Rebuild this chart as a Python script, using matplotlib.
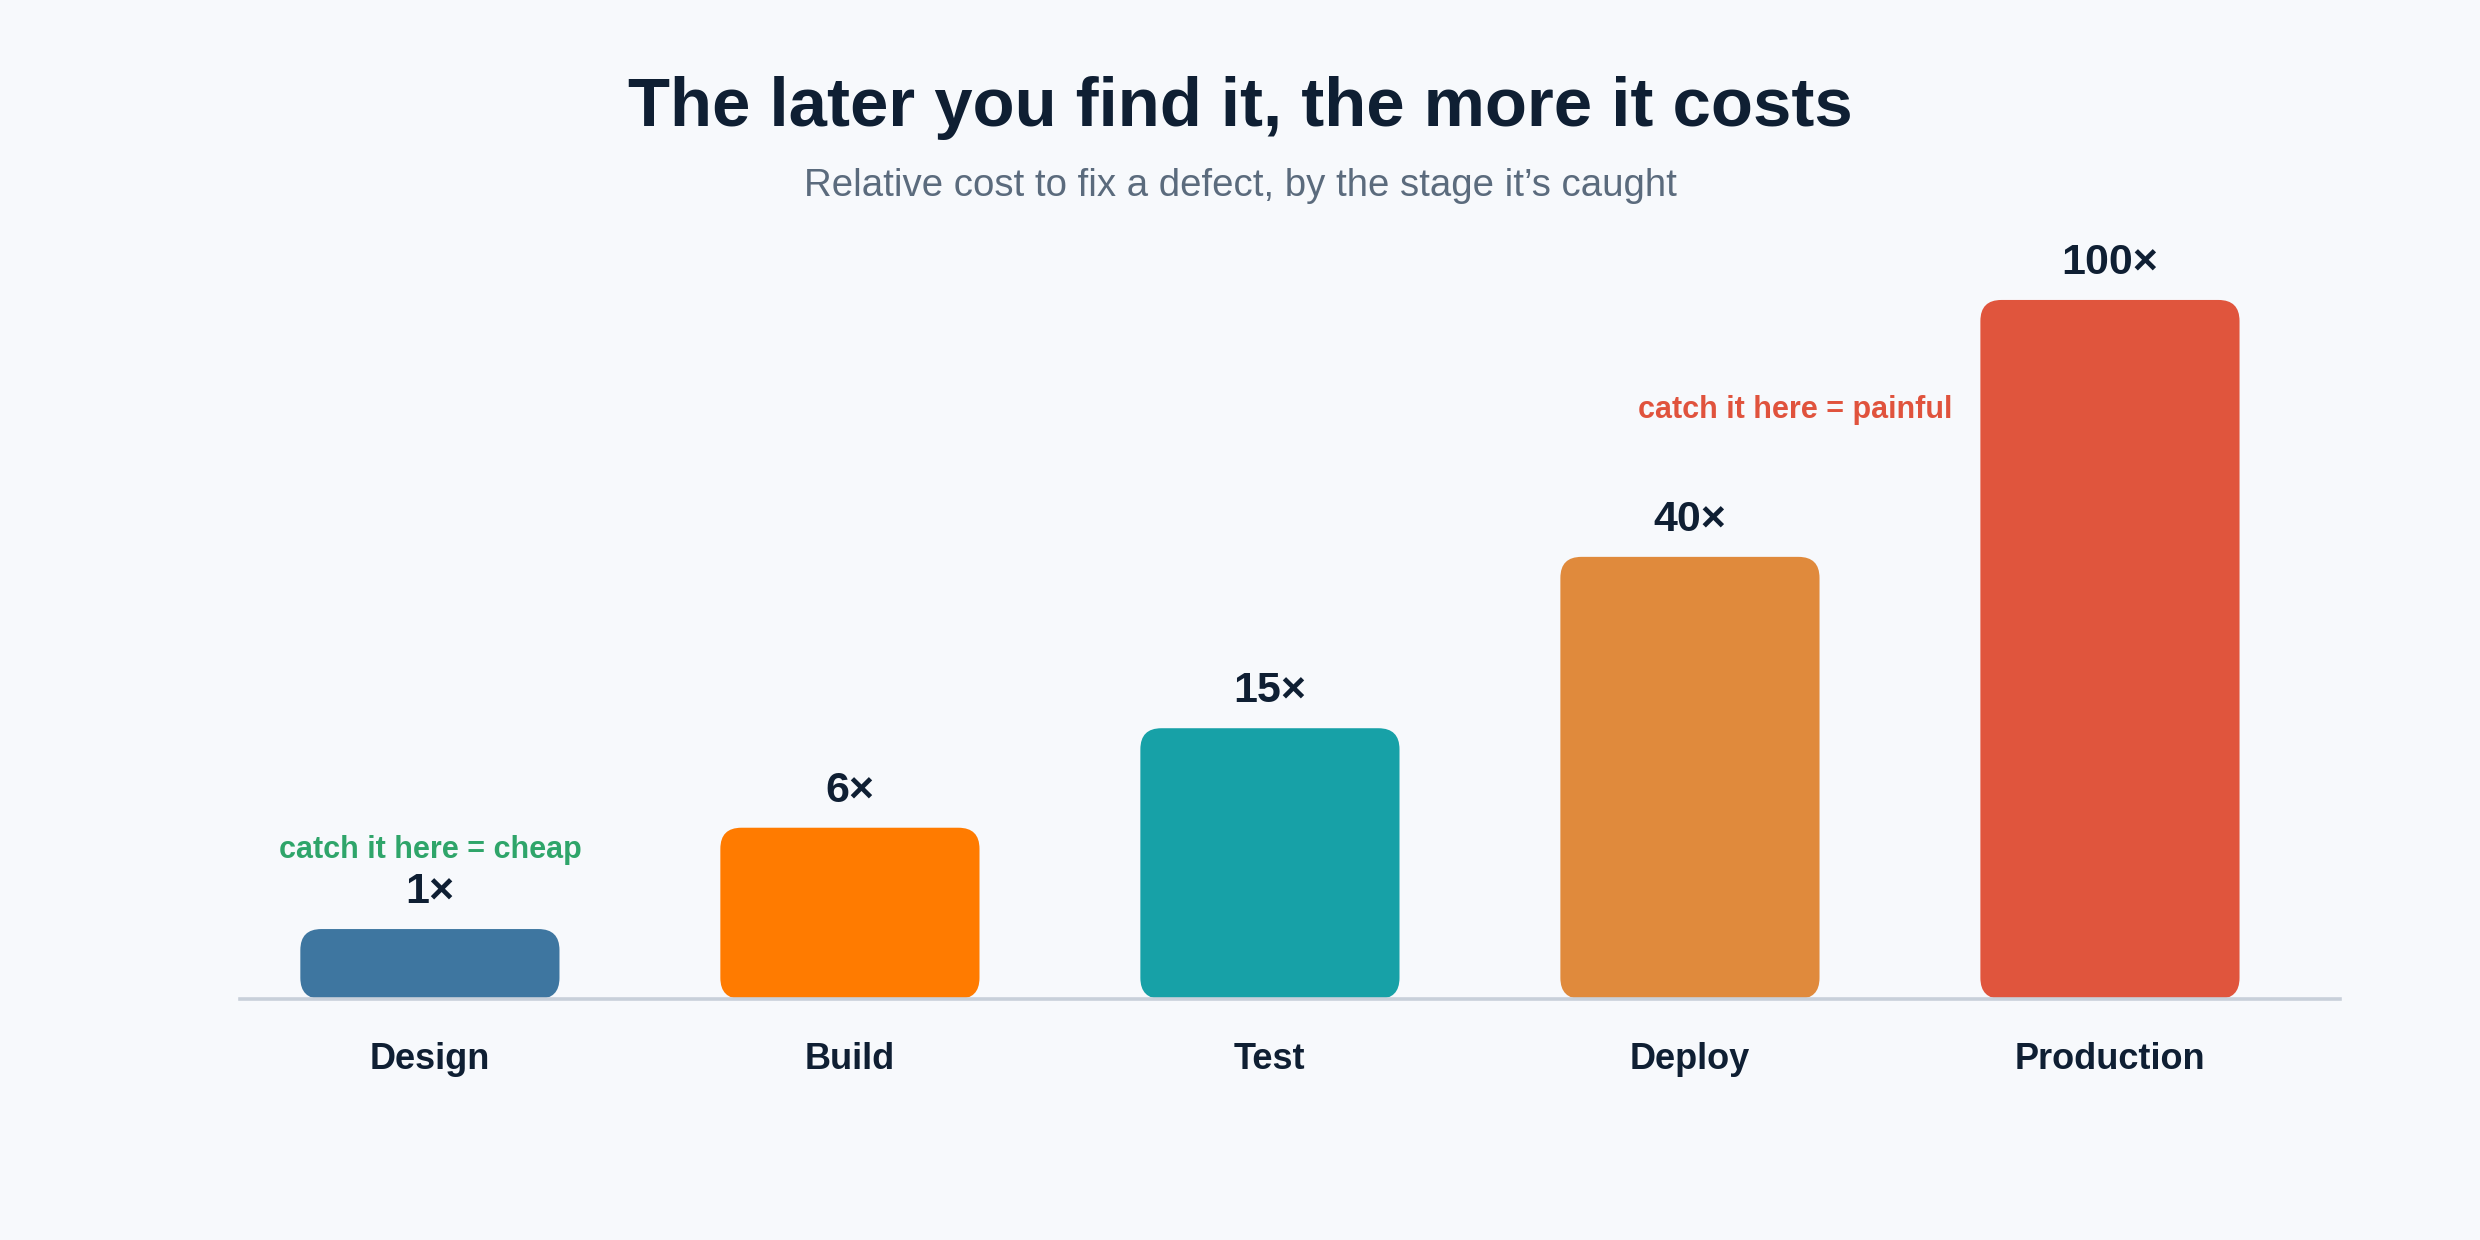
import matplotlib.pyplot as plt
import numpy as np
from matplotlib.patches import FancyBboxPatch

stages = ["Design", "Build", "Test", "Deploy", "Production"]
costs = [1, 6, 15, 40, 100]
labels = ["1×", "6×", "15×", "40×", "100×"]
colors = ["#3e76a0", "#ff7b00", "#17a1a7", "#e08a3c", "#e0553d"]

bg = "#f7f9fc"
ink = "#0f1f33"

plt.rcParams["font.family"] = ["Liberation Sans", "DejaVu Sans"]

fig = plt.figure(figsize=(12.4, 6.2), dpi=200, facecolor=bg)
ax = fig.add_axes([0.0968, 0.1944, 0.8468, 0.5637])
ax.set_facecolor(bg)

# sqrt scale -> bar heights follow sqrt of the cost
ax.set_yscale("function", functions=(np.sqrt, np.square))
ax.set_ylim(0, 100)
ax.set_xlim(-0.452, 4.548)

x = np.arange(len(stages))
bars = ax.bar(x, costs, width=0.617, color=colors)

for s in ["top", "left", "right"]:
    ax.spines[s].set_visible(False)
ax.spines["bottom"].set_color("#c8d0da")
ax.spines["bottom"].set_linewidth(1.3)
ax.spines["bottom"].set_zorder(5)
ax.set_yticks([])
ax.set_xticks(x)
ax.set_xticklabels(stages, fontsize=13, fontweight="bold", color=ink)
ax.tick_params(axis="x", length=0, pad=15.5)

# swap plain bars for rounded ones (drawn in axes coords)
fig.canvas.draw()
W = ax.bbox.width
H = ax.bbox.height
inv = ax.transAxes.inverted()
for b in bars:
    ext = b.get_window_extent()
    (x0, y0), (x1, y1) = inv.transform([[ext.x0, ext.y0], [ext.x1, ext.y1]])
    p = FancyBboxPatch((x0, y0), x1 - x0, y1 - y0,
                       boxstyle="round,pad=0,rounding_size=%f" % (21 / W),
                       mutation_aspect=W / H, transform=ax.transAxes,
                       facecolor=b.get_facecolor(), edgecolor="none",
                       clip_on=False, zorder=2)
    ax.add_patch(p)
    b.set_visible(False)

for xi, c, lab in zip(x, costs, labels):
    ax.annotate(lab, (xi, c), xytext=(0, 9.4), textcoords="offset points",
                ha="center", va="baseline", fontsize=15.5, fontweight="bold",
                color=ink)

ax.annotate("catch it here = cheap", (0, costs[0]), xytext=(0, 25.5),
            textcoords="offset points", ha="center", va="baseline",
            fontsize=11, fontweight="bold", color="#2fa56a")
ax.text(3.625, 69, "catch it here = painful", ha="right", va="baseline",
        fontsize=11, fontweight="bold", color="#e0533d")

fig.text(0.5, 0.898, "The later you find it, the more it costs", ha="center",
         va="baseline", fontsize=24.8, fontweight="bold", color=ink)
fig.text(0.5, 0.842, "Relative cost to fix a defect, by the stage it\u2019s caught",
         ha="center", va="baseline", fontsize=13.8, color="#5b6b7d")

fig.savefig("out.png", dpi=200, facecolor=bg)
